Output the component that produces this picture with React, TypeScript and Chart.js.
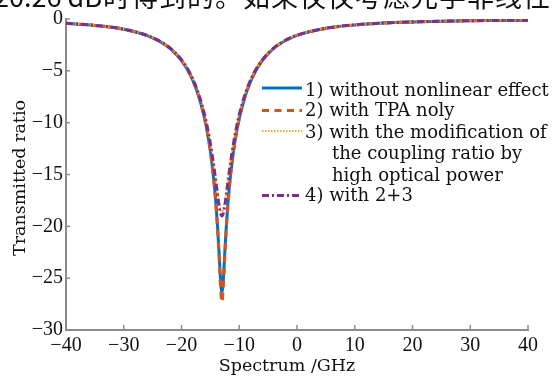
import React, { useEffect, useRef } from "react";
import { Chart, registerables } from "chart.js";

Chart.register(...registerables);

const spectrum = [-40, -35, -30, -25, -22, -20, -19, -18, -17, -16, -15.5, -15, -14.5, -14.25, -14, -13.75, -13.5, -13.25, -13, -12.75, -12.5, -12.25, -12, -11.75, -11.5, -11, -10.5, -10, -9, -8, -7, -6, -4, -2, 0, 5, 10, 15, 20, 25, 30, 35, 40];

const withoutNonlinear = [-0.42, -0.62, -0.99, -1.81, -2.82, -4.0, -4.85, -5.97, -7.48, -9.59, -11.0, -12.74, -15.02, -16.42, -18.1, -20.1, -22.49, -25.04, -26.38, -25.04, -22.49, -20.1, -18.1, -16.42, -15.02, -12.74, -11.0, -9.59, -7.48, -5.97, -4.85, -4.0, -2.82, -2.08, -1.58, -0.9, -0.57, -0.39, -0.29, -0.22, -0.17, -0.14, -0.11];

const tpaOnly = [-0.42, -0.62, -0.99, -1.81, -2.82, -4.0, -4.85, -5.97, -7.48, -9.61, -11.02, -12.78, -15.07, -16.5, -18.21, -20.3, -22.84, -25.69, -27.3, -25.69, -22.84, -20.3, -18.21, -16.5, -15.07, -12.78, -11.02, -9.61, -7.48, -5.97, -4.85, -4.0, -2.82, -2.08, -1.58, -0.9, -0.57, -0.39, -0.29, -0.22, -0.17, -0.14, -0.11];

const couplingMod = [-0.41, -0.61, -0.98, -1.79, -2.78, -3.92, -4.75, -5.82, -7.25, -9.2, -10.45, -11.93, -13.69, -14.68, -15.71, -16.74, -17.67, -18.35, -18.6, -18.35, -17.67, -16.74, -15.71, -14.68, -13.69, -11.93, -10.45, -9.2, -7.25, -5.82, -4.75, -3.92, -2.78, -2.05, -1.56, -0.89, -0.56, -0.39, -0.28, -0.21, -0.17, -0.14, -0.11];

const combined = [-0.41, -0.61, -0.98, -1.79, -2.78, -3.93, -4.76, -5.84, -7.28, -9.24, -10.5, -12.01, -13.81, -14.83, -15.9, -16.99, -17.99, -18.72, -19.0, -18.72, -17.99, -16.99, -15.9, -14.83, -13.81, -12.01, -10.5, -9.24, -7.28, -5.84, -4.76, -3.93, -2.78, -2.05, -1.56, -0.89, -0.56, -0.39, -0.28, -0.21, -0.17, -0.14, -0.11];

const xTicks = [-40, -30, -20, -10, 0, 10, 20, 30, 40];
const yTicks = [-30, -25, -20, -15, -10, -5, 0];

const legendLabels = [
  ["1) without nonlinear effect"],
  ["2) with TPA noly"],
  ["3) with the modification of", "the coupling ratio by", "high optical power"],
  ["4) with 2+3"],
];

const headerText = ["20.26 dB", "时得到的。如果仅仅考虑光学非线性"];

const COLORS = ["#0072BD", "#D95319", "#EDB120", "#7E2F8E"];
const DASHES: number[][] = [[], [7, 5.5], [1.5, 1.5], [7, 3, 2, 3]];
const WIDTHS = [3, 3, 2.2, 3];
const SERIF = "'DejaVu Serif', serif";
const TICKFONT = "'Liberation Serif', serif";
const AXIS = "#8c8c8c";

const fmt = (v: number) => (v < 0 ? "\u2212" + Math.abs(v) : String(v));

const extras = {
  id: "extras",
  afterDraw(chart: any) {
    const ctx = chart.ctx as CanvasRenderingContext2D;
    const xs = chart.scales.x;
    const ys = chart.scales.y;
    const area = chart.chartArea;
    ctx.save();
    // inward ticks
    ctx.strokeStyle = AXIS;
    ctx.lineWidth = 1.5;
    xTicks.forEach((t) => {
      const px = xs.getPixelForValue(t);
      ctx.beginPath();
      ctx.moveTo(px, area.bottom);
      ctx.lineTo(px, area.bottom - 5);
      ctx.stroke();
    });
    yTicks.forEach((t) => {
      const py = ys.getPixelForValue(t);
      ctx.beginPath();
      ctx.moveTo(area.left, py);
      ctx.lineTo(area.left + 4, py);
      ctx.stroke();
    });
    // axis titles
    ctx.fillStyle = "#111";
    ctx.font = "17.5px " + SERIF;
    ctx.textAlign = "center";
    ctx.textBaseline = "alphabetic";
    ctx.fillText("Spectrum /GHz", 287, 371);
    ctx.save();
    ctx.translate(25, 178);
    ctx.rotate(-Math.PI / 2);
    ctx.fillText("Transmitted ratio", 0, 0);
    ctx.restore();
    // legend
    const lineRows = [88, 110.5, 131, 195.5];
    const textRows = [91, 111.5, 133, 196];
    ctx.font = "18px " + SERIF;
    ctx.textAlign = "left";
    ctx.textBaseline = "middle";
    legendLabels.forEach((lines, i) => {
      const y = lineRows[i];
      ctx.save();
      ctx.strokeStyle = COLORS[i];
      ctx.lineWidth = WIDTHS[i];
      ctx.setLineDash(DASHES[i]);
      ctx.beginPath();
      ctx.moveTo(262, y);
      ctx.lineTo(302, y);
      ctx.stroke();
      ctx.restore();
      lines.forEach((ln, j) => {
        ctx.fillText(ln, j === 0 ? 305 : 332, textRows[i] + j * 21.5);
      });
    });
    // cropped header text from the page
    ctx.font = "27px 'Noto Sans CJK SC', sans-serif";
    ctx.textBaseline = "alphabetic";
    ctx.textAlign = "right";
    ctx.fillText(headerText[0], 102, 7);
    ctx.textAlign = "left";
    (ctx as any).letterSpacing = "1px";
    ctx.fillText(headerText[1], 103, 7);
    ctx.restore();
  },
};

export default function App() {
  const ref = useRef<HTMLCanvasElement | null>(null);
  useEffect(() => {
    document.body.style.margin = "0";
    const canvas = ref.current!;
    const series = [withoutNonlinear, tpaOnly, couplingMod, combined];
    const chart = new Chart(canvas, {
      type: "line",
      data: {
        datasets: series.map((s, i) => ({
          label: legendLabels[i].join(" "),
          data: spectrum.map((x, k) => ({ x, y: s[k] })),
          borderColor: COLORS[i],
          borderWidth: WIDTHS[i],
          borderDash: DASHES[i],
          pointRadius: 0,
          fill: false,
          cubicInterpolationMode: "monotone" as const,
          order: 4 - i,
        })),
      },
      options: {
        animation: false,
        responsive: false,
        maintainAspectRatio: false,
        layout: { padding: { top: 19, right: 25, left: 0, bottom: 0 } },
        plugins: { legend: { display: false }, tooltip: { enabled: false } },
        scales: {
          x: {
            type: "linear",
            min: -40,
            max: 40,
            afterFit: (s: any) => {
              s.height = 46;
            },
            afterBuildTicks: (s: any) => {
              s.ticks = xTicks.map((v) => ({ value: v }));
            },
            grid: { display: false, drawTicks: false },
            border: { display: true, color: AXIS, width: 2 },
            ticks: {
              font: { family: TICKFONT, size: 20 },
              color: "#111",
              padding: 4,
              maxRotation: 0,
              callback: (v: any) => fmt(Number(v)),
            },
          },
          y: {
            type: "linear",
            min: -30,
            max: 0,
            afterFit: (s: any) => {
              s.width = 66;
            },
            afterBuildTicks: (s: any) => {
              s.ticks = yTicks.map((v) => ({ value: v }));
            },
            grid: { display: false, drawTicks: false },
            border: { display: true, color: AXIS, width: 2 },
            ticks: {
              font: { family: TICKFONT, size: 20 },
              color: "#111",
              padding: 3,
              callback: (v: any) => fmt(Number(v)),
            },
          },
        },
      },
      plugins: [extras],
    });
    return () => chart.destroy();
  }, []);
  return (
    <div style={{ width: 553, height: 376 }}>
      <canvas ref={ref} width={553} height={376} style={{ display: "block" }} />
    </div>
  );
}
